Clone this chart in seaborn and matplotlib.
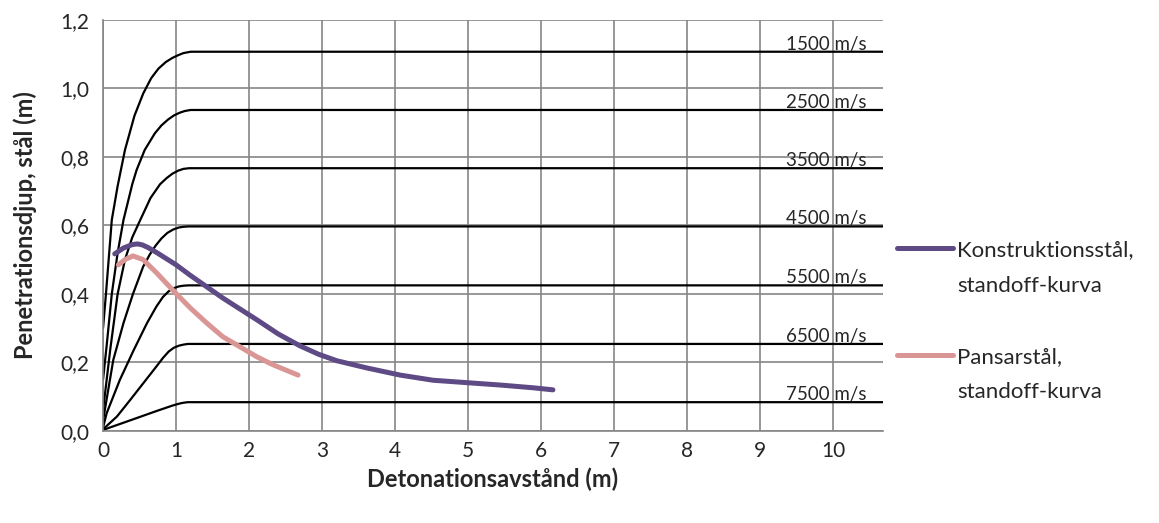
import pandas as pd
import matplotlib.pyplot as plt
import seaborn as sns
from matplotlib.lines import Line2D

# Standoff-kurvor per detonationshastighet
speeds = ["1500 m/s", "2500 m/s", "3500 m/s", "4500 m/s", "5500 m/s", "6500 m/s", "7500 m/s"]
x_1500 = [0, 0.04, 0.12, 0.2, 0.3, 0.43, 0.55, 0.66, 0.76, 0.86, 0.95, 1.03, 1.1, 1.2, 11]
y_1500 = [0.30, 0.40, 0.616, 0.715, 0.82, 0.92, 0.985, 1.03, 1.058, 1.077, 1.089, 1.097, 1.103, 1.107, 1.107]
x_2500 = [0, 0.05, 0.12, 0.2, 0.28, 0.4, 0.46, 0.57, 0.71, 0.8, 0.89, 0.97, 1.05, 1.12, 1.2, 11]
y_2500 = [0.15, 0.25, 0.40, 0.52, 0.616, 0.72, 0.762, 0.82, 0.869, 0.892, 0.909, 0.921, 0.929, 0.934, 0.937, 0.937]
x_3500 = [0, 0.1, 0.2, 0.3, 0.4, 0.51, 0.65, 0.78, 0.87, 0.95, 1.03, 1.1, 1.18, 11]
y_3500 = [0.06, 0.24, 0.40, 0.50, 0.565, 0.616, 0.68, 0.72, 0.738, 0.751, 0.76, 0.765, 0.767, 0.767]
x_4500 = [0, 0.14, 0.28, 0.41, 0.55, 0.64, 0.72, 0.8, 0.88, 0.96, 1.04, 1.1, 1.17, 11]
y_4500 = [0.03, 0.207, 0.315, 0.40, 0.48, 0.515, 0.541, 0.562, 0.578, 0.588, 0.594, 0.596, 0.597, 0.597]
x_5500 = [0, 0.05, 0.23, 0.42, 0.6, 0.73, 0.82, 0.9, 0.97, 1.04, 1.1, 1.17, 11]
y_5500 = [0.01, 0.052, 0.149, 0.236, 0.314, 0.363, 0.391, 0.408, 0.417, 0.422, 0.424, 0.425, 0.425]
x_6500 = [0, 0.19, 0.37, 0.55, 0.73, 0.82, 0.9, 0.97, 1.04, 1.1, 1.16, 11]
y_6500 = [0.005, 0.042, 0.09, 0.139, 0.188, 0.213, 0.232, 0.243, 0.249, 0.252, 0.254, 0.254]
x_7500 = [0, 0.28, 0.73, 0.95, 1.03, 1.09, 1.16, 11]
y_7500 = [0.003, 0.024, 0.058, 0.074, 0.079, 0.082, 0.084, 0.084]

# Uppmätta standoff-kurvor
konstr_x = [0.16, 0.28, 0.4, 0.47, 0.54, 0.62, 0.74, 1.0, 1.19, 1.64, 2.11, 2.4, 2.7, 2.95, 3.2, 3.61, 4.07, 4.52, 4.98, 5.44, 5.89, 6.16]
konstr_y = [0.517, 0.534, 0.544, 0.546, 0.543, 0.535, 0.52, 0.485, 0.455, 0.388, 0.324, 0.283, 0.248, 0.224, 0.205, 0.184, 0.163, 0.148, 0.141, 0.134, 0.126, 0.120]
pansar_x = [0.21, 0.30, 0.41, 0.55, 0.74, 0.96, 1.19, 1.42, 1.64, 1.88, 2.11, 2.33, 2.67]
pansar_y = [0.485, 0.50, 0.511, 0.50, 0.46, 0.41, 0.36, 0.315, 0.275, 0.245, 0.216, 0.193, 0.163]

x_ticks = list(range(11))
y_ticks = [0.0, 0.2, 0.4, 0.6, 0.8, 1.0, 1.2]
y_tick_labels = ["0,0", "0,2", "0,4", "0,6", "0,8", "1,0", "1,2"]

curves_x = [x_1500, x_2500, x_3500, x_4500, x_5500, x_6500, x_7500]
curves_y = [y_1500, y_2500, y_3500, y_4500, y_5500, y_6500, y_7500]
frames = []
for name, xs, ys in zip(speeds, curves_x, curves_y):
    frames.append(pd.DataFrame({"x": xs, "y": ys, "speed": name}))
standoff = pd.concat(frames, ignore_index=True)

sns.set_style("white")
plt.rcParams['font.family'] = ['Lato', 'DejaVu Sans']

fig = plt.figure(figsize=(11.59, 5.23), dpi=100)
ax = fig.add_axes([0.0889, 0.176, 0.673, 0.786])

grid_col = "#868686"
ax.set_axisbelow(True)
ax.grid(True, color=grid_col, linewidth=1.2)

sns.lineplot(data=standoff, x="x", y="y", units="speed", estimator=None, sort=False,
             color="black", linewidth=1.6, legend=False, ax=ax)

purple = "#5E4A84"
pink = "#D99694"
sns.lineplot(x=konstr_x, y=konstr_y, sort=False, color=purple, linewidth=3.6,
             solid_capstyle="round", solid_joinstyle="round", ax=ax)
sns.lineplot(x=pansar_x, y=pansar_y, sort=False, color=pink, linewidth=3.6,
             solid_capstyle="round", solid_joinstyle="round", ax=ax)

for name, ys in zip(speeds, curves_y):
    ax.annotate(name, xy=(10.45, ys[-1]), xytext=(0, 1.5), textcoords="offset points",
                ha="right", va="baseline", fontsize=13.5)

ax.set_xlim(0, 10.68)
ax.set_ylim(0, 1.2)
ax.set_xticks(x_ticks)
ax.set_yticks(y_ticks)
ax.set_yticklabels(y_tick_labels)
ax.tick_params(axis="both", direction="out", length=4, width=1.2, color=grid_col,
               labelsize=15)
ax.tick_params(axis="x", pad=3)
ax.tick_params(axis="y", pad=6)

for side in ["top", "right"]:
    ax.spines[side].set_visible(False)
for side in ["left", "bottom"]:
    ax.spines[side].set_color(grid_col)
    ax.spines[side].set_linewidth(1.2)

ax.set_xlabel("Detonationsavstånd (m)", fontsize=17, fontweight="bold", labelpad=5)
ax.set_ylabel("Penetrationsdjup, stål (m)", fontsize=17, fontweight="bold", labelpad=17)

blank = Line2D([], [], color="none")
handles = [Line2D([], [], color=purple, linewidth=3.6, solid_capstyle="round"), blank, blank,
           Line2D([], [], color=pink, linewidth=3.6, solid_capstyle="round"), blank]
labels = ["Konstruktionsstål,", "standoff-kurva", " ", "Pansarstål,", "standoff-kurva"]
fig.legend(handles, labels, loc="upper left", bbox_to_anchor=(0.774, 0.541),
           frameon=False, fontsize=16, handlelength=2.5, handletextpad=0.2,
           labelspacing=0.7, borderpad=0, borderaxespad=0)

fig.savefig("out.png", dpi=100)
